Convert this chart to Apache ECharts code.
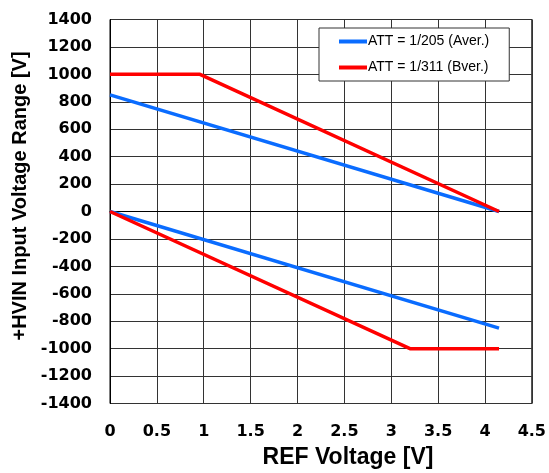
<!DOCTYPE html>
<html>
<head>
<meta charset="utf-8">
<script src="https://cdn.jsdelivr.net/npm/echarts@6/dist/echarts.min.js"></script>
<style>
html,body{margin:0;padding:0;background:#fff;}
#main{width:549px;height:473px;}
</style>
</head>
<body>
<div id="main"></div>
<script>
const seriesNames = ['ATT = 1/205 (Aver.)', 'ATT = 1/311 (Bver.)'];
const xTitle = 'REF Voltage [V]';
const yTitle = '+HVIN Input Voltage Range [V]';
// [REF voltage, input voltage] pairs
const blueUpper = [[0, 850], [4.15, 0]];
const blueLower = [[0, 0], [4.15, -850]];
const redUpper = [[0, 1000], [0.96, 1000], [4.15, 0]];
const redLower = [[0, 0], [3.2, -1000], [4.15, -1000]];
const xMin = 0, xMax = 4.5, xStep = 0.5;
const yMin = -1400, yMax = 1400, yStep = 200;

const blue = '#0A6CFF';
const red = '#FF0000';
const FONT = 'Liberation Sans, Arial, sans-serif';
const TICKFONT = 'DejaVu Sans, Liberation Sans, sans-serif';

const chart = echarts.init(document.getElementById('main'), null, {renderer: 'canvas'});
const lineSeries = (name, data, color) => ({
  name, type: 'line', data, symbol: 'none', showSymbol: false,
  lineStyle: {color, width: 3.5}, itemStyle: {color}, animation: false
});
chart.setOption({
  animation: false,
  backgroundColor: '#fff',
  grid: {left: 110, right: 15, top: 19.5, bottom: 69.5, show: true, borderColor: '#000', borderWidth: 1},
  legend: {
    data: seriesNames,
    orient: 'vertical',
    left: 319, top: 28,
    backgroundColor: '#fff',
    borderColor: '#333', borderWidth: 1,
    padding: [6, 20, 6, 20],
    itemGap: 11,
    itemWidth: 28, itemHeight: 4,
    icon: 'rect',
    textStyle: {fontFamily: FONT, fontSize: 14, color: '#000', padding: [0, 0, 0, -4], lineHeight: 15}
  },
  xAxis: {
    type: 'value', min: xMin, max: xMax, interval: xStep,
    axisLine: {show: true, lineStyle: {color: '#000', width: 1}},
    axisTick: {show: false},
    splitLine: {show: true, lineStyle: {color: '#333', width: 1}},
    axisLabel: {margin: 20, color: '#000', fontWeight: 'bold', fontSize: 16, fontFamily: TICKFONT,
      formatter: v => String(v)}
  },
  yAxis: {
    type: 'value', min: yMin, max: yMax, interval: yStep,
    axisLine: {show: true, lineStyle: {color: '#000', width: 1}},
    axisTick: {show: false},
    splitLine: {show: true, lineStyle: {color: '#333', width: 1}},
    axisLabel: {margin: 18, color: '#000', fontWeight: 'bold', fontSize: 16, fontFamily: TICKFONT,
      formatter: v => String(v)}
  },
  graphic: [
    {type: 'text', x: 348, y: 458, style: {text: xTitle, fill: '#000', font: 'bold 23px ' + FONT, textAlign: 'center', textVerticalAlign: 'middle'}},
    {type: 'text', x: 20, y: 196, rotation: Math.PI / 2, style: {text: yTitle, fill: '#000', font: 'bold 20px ' + FONT, textAlign: 'center', textVerticalAlign: 'middle'}}
  ],
  series: [
    lineSeries(seriesNames[0], blueUpper, blue),
    lineSeries(seriesNames[0], blueLower, blue),
    lineSeries(seriesNames[1], redUpper, red),
    lineSeries(seriesNames[1], redLower, red)
  ]
});
</script>
</body>
</html>
